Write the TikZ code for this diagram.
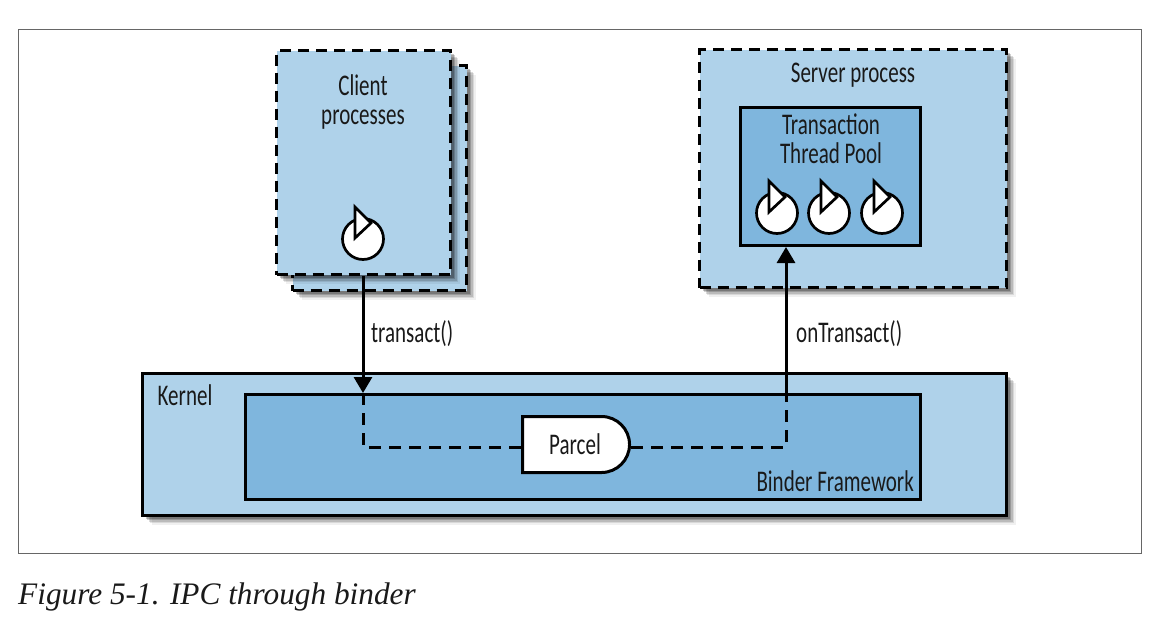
\documentclass[tikz,border=0pt]{standalone}
\usepackage{fontspec}
\setsansfont[FakeStretch=0.7]{Carlito}
\setmainfont{Liberation Serif}
\usetikzlibrary{positioning,shapes.misc,shadows,arrows.meta}

\begin{document}
\begin{tikzpicture}[
x=1pt,y=-1pt,
softshadow/.style={
    drop shadow={shadow xshift=9pt,shadow yshift=-9pt,fill=black,opacity=0.06},
    drop shadow={shadow xshift=7.5pt,shadow yshift=-7.5pt,fill=black,opacity=0.1},
    drop shadow={shadow xshift=6pt,shadow yshift=-6pt,fill=black,opacity=0.14},
    drop shadow={shadow xshift=4.5pt,shadow yshift=-4.5pt,fill=black,opacity=0.18},
    drop shadow={shadow xshift=3pt,shadow yshift=-3pt,fill=black,opacity=0.22}
},
procbox/.style={rectangle,draw=black,fill=paleblue,line width=3pt,dash pattern=on 11pt off 7pt,inner sep=0,softshadow},
solidbox/.style={rectangle,draw=black,line width=3pt,inner sep=0},
labelfont/.style={font=\sffamily\fontsize{30}{29}\selectfont,align=center,text=black!90},
caption/.style={labelfont,inner sep=0},
thread/.style={circle,draw=black,fill=white,line width=2.7pt,minimum size=41pt,inner sep=0},
threadflag/.style={draw=black,fill=white,line width=2.7pt,line join=miter},
flow/.style={draw=black,line width=3pt,-{Triangle[length=16pt,width=18pt]}},
hop/.style={draw=black,line width=3pt,dash pattern=on 12pt off 8pt}
]
\definecolor{paleblue}{HTML}{AFD2EA}
\definecolor{midblue}{HTML}{7FB6DD}
\useasboundingbox (0,0) rectangle (1170,622);

\node[rectangle,draw=black!60,line width=1pt,minimum width=1123pt,minimum height=524pt,inner sep=0] (frame) at (579.5,291) { };

% client side
\node[procbox,minimum width=174pt,minimum height=225pt] (clientback) at (379.5,178) { };
\node[procbox,minimum width=174pt,minimum height=224pt] (client) at (363.5,162.5) { };
\node[caption] (clienttext) at (363,102) {Client\\processes};

% server side
\node[procbox,minimum width=307pt,minimum height=238pt] (server) at (853,168.5) { };
\node[caption] (servertext) at (853,75) {Server process};
\node[solidbox,fill=midblue,minimum width=180pt,minimum height=138pt] (pool) at (830.5,176.5) { };
\node[caption] (pooltext) at (831,139) {Transaction\\Thread Pool};

% kernel
\node[solidbox,fill=paleblue,softshadow,minimum width=864pt,minimum height=142pt] (kernel) at (574.5,444.5) { };
\node[caption] (kerneltext) at (185,395) {Kernel};
\node[solidbox,fill=midblue,minimum width=675pt,minimum height=105pt] (binder) at (583,447) { };
\node[caption,anchor=east] (bindertext) at (914,481) {Binder Framework};

% threads
\foreach \name/\x/\y in {clientthread/363/239,poolone/777/213,pooltwo/829/213,poolthree/882/213}
{
    \node[thread] (\name) at (\x,\y) { };
    \draw[threadflag] ([shift={(-8pt,1pt)}]\name.center) -- ([shift={(-8pt,32pt)}]\name.center)
        -- ([shift={(8pt,16pt)}]\name.center) -- cycle;
}

% binder call
\coordinate (turnleft) at (363,447);
\coordinate (turnright) at (786,447);
\node[solidbox,labelfont,rounded rectangle,rounded rectangle west arc=none,fill=white,minimum width=107pt,minimum height=56pt] (parcel) at (575,444.5) {Parcel};
\draw[hop] (turnleft |- binder.north) -- (turnleft) -- (turnleft -| parcel.west);
\draw[hop] (turnright -| parcel.east) -- (turnright) -- (turnright |- binder.north);
\draw[flow] (turnleft |- client.south) -- (turnleft |- binder.north);
\draw[flow] (turnright |- binder.north) -- (turnright |- pool.south);
\node[caption,anchor=west] (transacttext) at (371,334) {transact()};
\node[caption,anchor=west] (ontransacttext) at (796,334) {onTransact()};

\node[anchor=base west,inner sep=0,font=\itshape\fontsize{31.3}{33}\selectfont,text=black!90] (figcaption) at (18,604) {Figure 5-1. IPC through binder};
\end{tikzpicture}
\end{document}
